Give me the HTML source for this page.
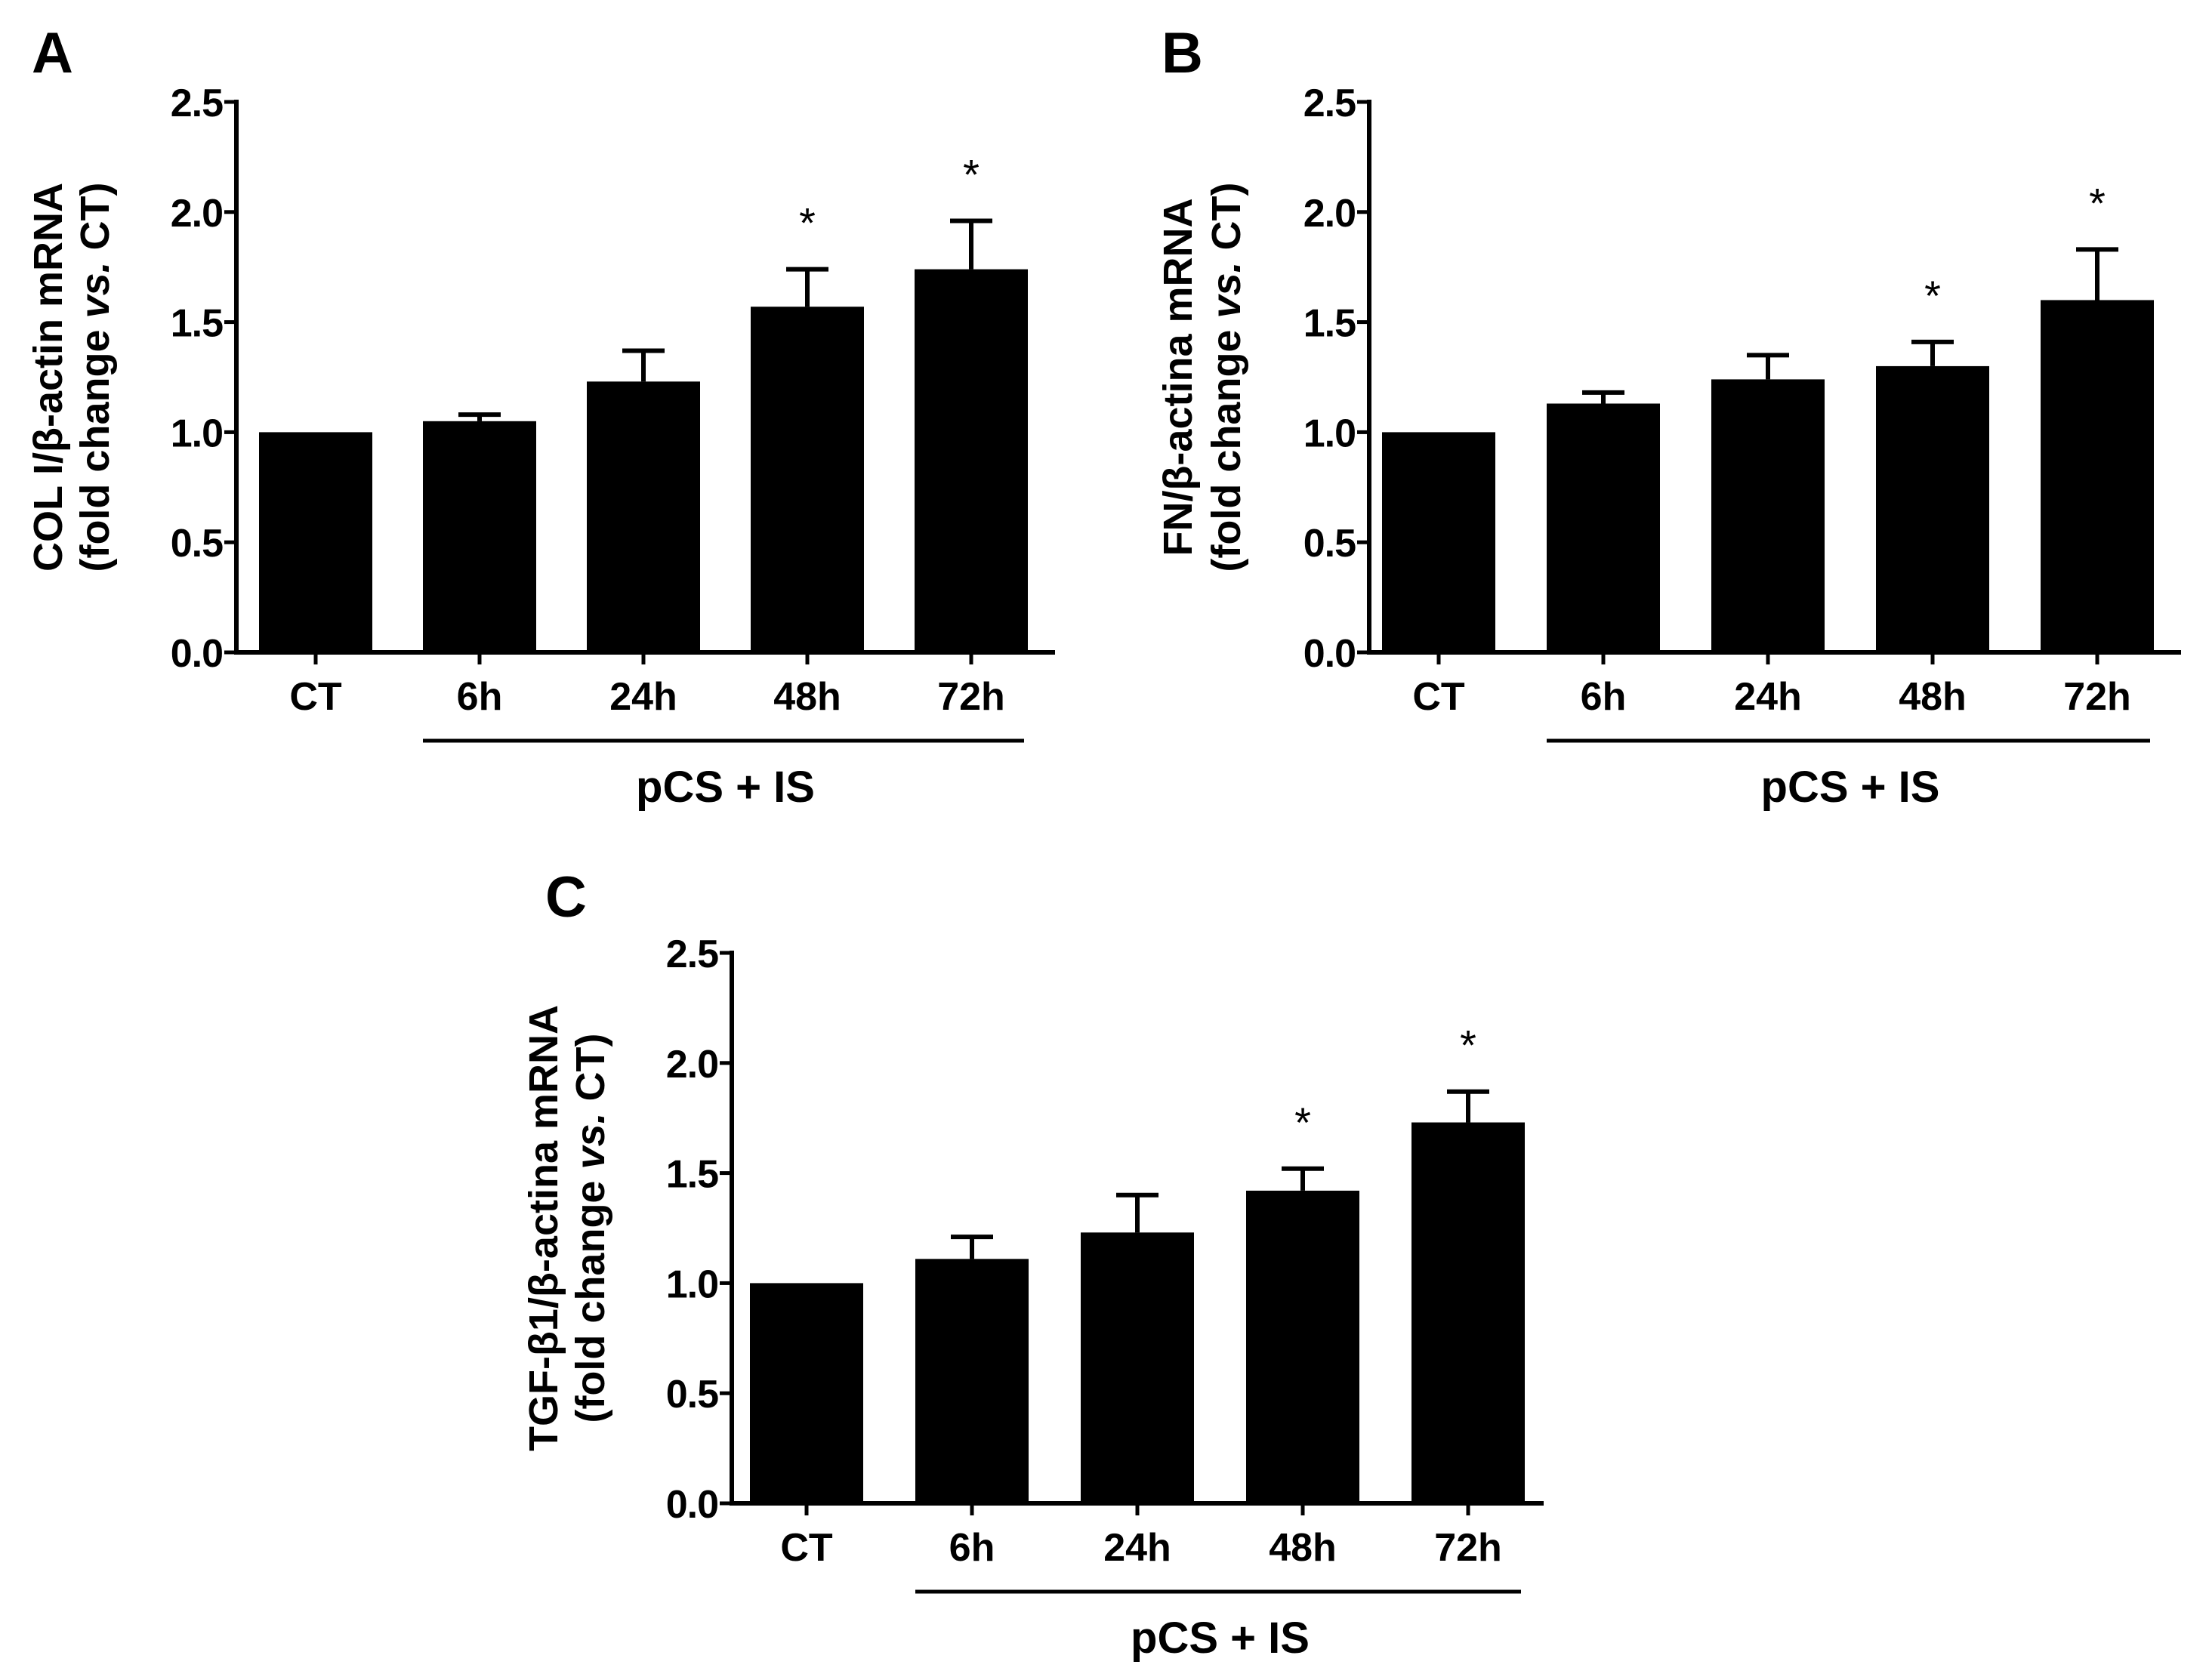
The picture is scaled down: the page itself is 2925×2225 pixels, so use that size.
<!DOCTYPE html>
<html><head><meta charset="utf-8"><style>
html,body{margin:0;padding:0;background:#fff}
svg{display:block;font-family:"Liberation Sans",Arial,sans-serif;font-weight:bold}
</style></head><body>
<svg id="fig" width="2925" height="2225" viewBox="0 0 2925 2225"></svg>
<script>
const categories = ["CT","6h","24h","48h","72h"];
const yTicks = [0.0,0.5,1.0,1.5,2.0,2.5];
const valuesA = [1.0,1.05,1.23,1.57,1.74];
const errorsA = [0.0,0.03,0.14,0.17,0.22];
const starsA = [false,false,false,true,true];
const valuesB = [1.0,1.13,1.24,1.30,1.60];
const errorsB = [0.0,0.05,0.11,0.11,0.23];
const starsB = [false,false,false,true,true];
const valuesC = [1.0,1.11,1.23,1.42,1.73];
const errorsC = [0.0,0.10,0.17,0.10,0.14];
const starsC = [false,false,false,true,true];

const NS="http://www.w3.org/2000/svg";
const svg=document.getElementById('fig');
function mk(tag,attrs,parent){const e=document.createElementNS(NS,tag);for(const k in attrs)e.setAttribute(k,attrs[k]);(parent||svg).appendChild(e);return e;}

function panel(cfg,vals,errs,stars){
  const g=mk('g',{});
  
  
  const yScale=v=>cfg.y0-(v/2.5)*(cfg.y0-cfg.y25);
  const xScale=i=>cfg.x0+cfg.step*(i+0.5)+cfg.offset;
  const L=mk('text',{x:cfg.lx,y:cfg.ly,'font-size':76},g);L.textContent=cfg.id;
  
  
  vals.forEach((v,i)=>{
    const cx=xScale(i);
    const r=mk('rect',{x:cx-75,y:yScale(v),width:150,height:cfg.y0-yScale(v),fill:'#000'},g);
    
    
    if(errs[i]>0){
      const top=yScale(v+errs[i]);
      const e=mk('path',{d:`M${cx},${yScale(v)}V${top}M${cx-28},${top}H${cx+28}`,stroke:'#000','stroke-width':6,fill:'none'},g);
      
      
    }
    if(stars[i]){
      const s=mk('text',{x:cx,y:yScale(v+errs[i])-42,'font-size':56,'text-anchor':'middle','font-weight':'normal'},g);
      s.textContent='*';
      
      
    }
    const t=mk('text',{x:cx,y:cfg.y0+76,'font-size':52,'text-anchor':'middle'},g);
    t.textContent=categories[i];
    
    
    const tk=mk('line',{x1:cx,x2:cx,y1:cfg.y0,y2:cfg.y0+16,stroke:'#000','stroke-width':5},g);
    
    
  });
  const ax=mk('path',{d:`M${cfg.x0},${cfg.y25-3}V${cfg.y0}H${cfg.xEnd}`,stroke:'#000','stroke-width':6,fill:'none'},g);
  
  
  yTicks.forEach(v=>{
    const y=yScale(v);
    const tk=mk('line',{x1:cfg.x0-16,x2:cfg.x0,y1:y,y2:y,stroke:'#000','stroke-width':5},g);
    
    
    const t=mk('text',{x:cfg.x0-18,y:y+19,'font-size':52,'text-anchor':'end','letter-spacing':-1},g);
    t.textContent=v.toFixed(1);
    
    
  });
  const cy=(cfg.y0+cfg.y25)/2;
  const t1=mk('text',{x:cfg.tx1,y:cy,'font-size':54,'text-anchor':'middle',transform:`rotate(-90 ${cfg.tx1} ${cy})`},g);
  t1.innerHTML=cfg.title1;
  
  
  const t2=mk('text',{x:cfg.tx2,y:cy,'font-size':54,'text-anchor':'middle',transform:`rotate(-90 ${cfg.tx2} ${cy})`},g);
  t2.innerHTML='(fold change <tspan font-style="italic">vs.</tspan> CT)';
  
  
  const gl=mk('line',{x1:xScale(1)-75,x2:xScale(4)+70,y1:cfg.y0+117,y2:cfg.y0+117,stroke:'#000','stroke-width':5},g);
  
  
  const gt=mk('text',{x:(xScale(1)+xScale(4))/2,y:cfg.y0+198,'font-size':58,'text-anchor':'middle'},g);
  gt.textContent='pCS + IS';
  
  
}

panel({id:'A',x0:313,xEnd:1397,y0:864,y25:135,step:217,offset:-0.5*217+105,lx:42,ly:96,tx1:82,tx2:144,
  title1:'COL I/β-actin mRNA'},valuesA,errorsA,starsA);
panel({id:'B',x0:1813,xEnd:2888,y0:864,y25:135,step:218,offset:-0.5*218+92,lx:1538,ly:96,tx1:1578,tx2:1642,
  title1:'FN/β-actina mRNA'},valuesB,errorsB,starsB);
panel({id:'C',x0:969,xEnd:2044,y0:1991,y25:1262,step:219,offset:-0.5*219+99,lx:722,ly:1214,tx1:738,tx2:800,
  title1:'TGF-β1/β-actina mRNA'},valuesC,errorsC,starsC);
</script>
</body></html>
